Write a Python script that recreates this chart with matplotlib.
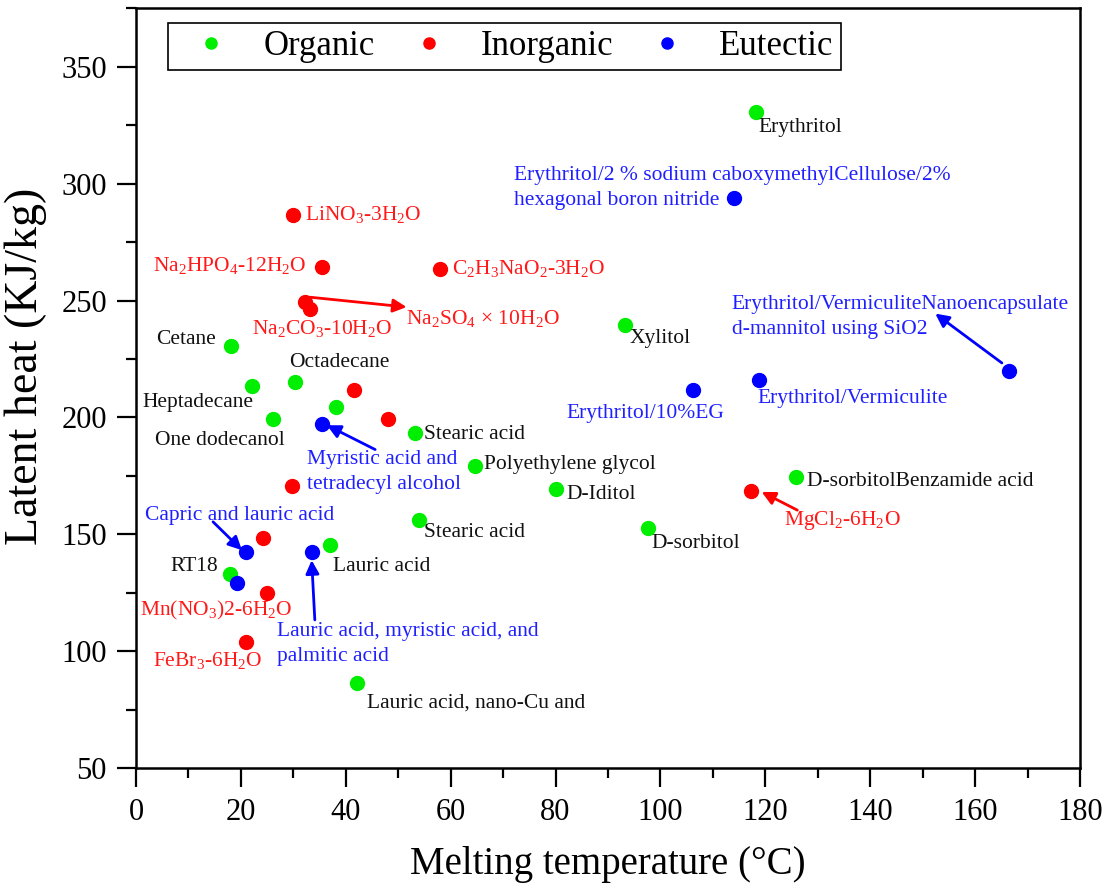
import matplotlib
matplotlib.use('Agg')
import matplotlib.pyplot as plt

plt.rcParams['font.family'] = ['Liberation Serif', 'DejaVu Serif']
plt.rcParams['mathtext.fontset'] = 'custom'
plt.rcParams['mathtext.rm'] = 'Liberation Serif'
plt.rcParams['mathtext.default'] = 'regular'

# ---------------- data ----------------
organic_names = ['Erythritol', 'Xylitol', 'Cetane', 'Heptadecane', 'Octadecane',
                 'One dodecanol', '', 'Stearic acid', 'Polyethylene glycol', 'D-Iditol',
                 'Stearic acid', 'D-sorbitol', 'D-sorbitolBenzamide acid', 'Lauric acid',
                 'RT18', 'Lauric acid, nano-Cu and']
organic_tm = [118.2, 93.2, 18.1, 22.1, 30.3, 26.1, 38.1, 53.2, 64.6, 80.1,
              54.0, 97.7, 125.9, 37.0, 17.9, 42.1]
organic_lh = [330.4, 239.4, 230.5, 213.5, 215.2, 199.5, 204.5, 193.4, 179.2, 169.5,
              156.4, 152.6, 174.5, 145.5, 133.3, 86.4]

inorganic_names = ['LiNO$_3$-3H$_2$O', 'Na$_2$HPO$_4$-12H$_2$O', 'C$_2$H$_3$NaO$_2$-3H$_2$O',
                   'Na$_2$SO$_4$ \u00d7 10H$_2$O', 'Na$_2$CO$_3$-10H$_2$O', '', '', '', '',
                   'Mn(NO$_3$)2-6H$_2$O', 'FeBr$_3$-6H$_2$O', 'MgCl$_2$-6H$_2$O']
inorganic_tm = [30.0, 35.5, 58.0, 32.2, 33.2, 41.6, 48.0, 29.8, 24.3, 25.0, 21.0, 117.2]
inorganic_lh = [286.6, 264.3, 263.6, 249.3, 246.5, 211.6, 199.5, 170.6, 148.5, 125.2, 104.1, 168.5]

eutectic_names = ['Erythritol/2 % sodium caboxymethylCellulose/2%\nhexagonal boron nitride',
                  'Erythritol/VermiculiteNanoencapsulate\nd-mannitol using SiO2',
                  'Erythritol/Vermiculite', 'Erythritol/10%EG',
                  'Myristic acid and\ntetradecyl alcohol', 'Capric and lauric acid',
                  'Lauric acid, myristic acid, and\npalmitic acid', '']
eutectic_tm = [114.0, 166.5, 118.7, 106.2, 35.5, 21.0, 33.5, 19.3]
eutectic_lh = [293.7, 219.7, 216.2, 211.6, 197.4, 142.3, 142.6, 129.1]

series_labels = ['Organic', 'Inorganic', 'Eutectic']
series_colors = ['#00ee00', '#ff0000', '#0000ff']
text_colors = ['#111111', '#ff1a1a', '#2020ff']

# ---------------- label layout (text anchor, alignment) ----------------
organic_layout = [(118.6, 324.0, 'left'), (94.2, 233.8, 'left'), (15.3, 233.3, 'right'),
                  (1.3, 206.2, 'left'), (29.2, 223.3, 'left'), (3.6, 190.3, 'left'), None,
                  (54.9, 192.8, 'left'), (66.4, 179.9, 'left'), (82.0, 167.1, 'left'),
                  (54.9, 150.7, 'left'), (98.3, 146.2, 'left'), (127.9, 172.5, 'left'),
                  (37.5, 136.5, 'left'), (15.7, 136.5, 'right'), (44.0, 77.8, 'left')]
inorganic_layout = [(32.2, 286.6, 'left'), (32.6, 265.0, 'right'), (60.2, 263.6, 'left'),
                    (51.5, 242.2, 'left'), (22.1, 238.0, 'left'), None, None, None, None,
                    (0.8, 117.4, 'left'), (3.3, 96.3, 'left'), (123.6, 156.1, 'left')]
eutectic_layout = [(72.0, 297.9, 'left'), (113.6, 242.9, 'left'), (118.5, 208.1, 'left'),
                   (82.1, 201.7, 'left'), (32.6, 176.7, 'left'), (1.7, 158.2, 'left'),
                   (26.8, 103.2, 'left'), None]

# arrows: (tail, head)
arrows_red = [((33.2, 251.4), (51.6, 247.2)), ((126.1, 160.4), (119.3, 168.2))]
arrows_blue = [((165.1, 223.3), (152.4, 244.4)), ((45.6, 186.3), (36.4, 196.7)),
               ((14.7, 155.4), (20.2, 143.3)), ((34.1, 113.5), (33.5, 139.0))]

# ---------------- figure ----------------
fig = plt.figure(figsize=(11.1, 8.92), dpi=100)
ax = fig.add_axes([0.1225, 0.1385, 0.8505, 0.8525])

groups = [(organic_tm, organic_lh, organic_names, organic_layout),
          (inorganic_tm, inorganic_lh, inorganic_names, inorganic_layout),
          (eutectic_tm, eutectic_lh, eutectic_names, eutectic_layout)]

for (xs, ys, names, layout), lab, col, tcol in zip(groups, series_labels, series_colors, text_colors):
    ax.plot(xs, ys, 'o', ms=10, color=col, mec=col, label=lab, zorder=3, clip_on=False)
    for name, lay in zip(names, layout):
        if not name or lay is None:
            continue
        ax.text(lay[0], lay[1], name, ha=lay[2], va='center', fontsize=15.5,
                color=tcol, linespacing=1.42, zorder=4)

for arrs, col in ((arrows_red, '#ff0000'), (arrows_blue, '#0000ff')):
    for tail, head in arrs:
        ax.annotate('', xy=head, xytext=tail,
                    arrowprops=dict(arrowstyle='-|>', color=col, lw=2,
                                    mutation_scale=20, shrinkA=0, shrinkB=0),
                    zorder=4)

ax.set_xlim(0, 180)
ax.set_ylim(50, 375)
ax.set_xticks(range(0, 181, 20))
ax.set_xticks(range(10, 180, 20), minor=True)
ax.set_yticks(range(50, 351, 50))
ax.set_yticks(range(75, 376, 50), minor=True)
ax.tick_params(axis='both', which='major', direction='out', length=14, width=1.6,
               labelsize=22, pad=7)
ax.tick_params(axis='both', which='minor', direction='out', length=7, width=1.6)
ax.tick_params(top=False, right=False, which='both')
for sp in ax.spines.values():
    sp.set_linewidth(1.8)

ax.set_xlabel('Melting temperature (\u00b0C)', fontsize=28, labelpad=14)
ax.set_ylabel('Latent heat (KJ/kg)', fontsize=33)
ax.yaxis.set_label_coords(-0.094, 0.529)

leg = ax.legend(loc='upper left', bbox_to_anchor=(0.034, 0.98), borderaxespad=0,
                ncol=3, fontsize=25, frameon=True, fancybox=False, framealpha=1,
                edgecolor='black', handlelength=2.1, handletextpad=0.45,
                columnspacing=0.5, borderpad=0.2, markerscale=0.8)
leg.get_frame().set_linewidth(1.2)

fig.savefig('out.png', dpi=100)
